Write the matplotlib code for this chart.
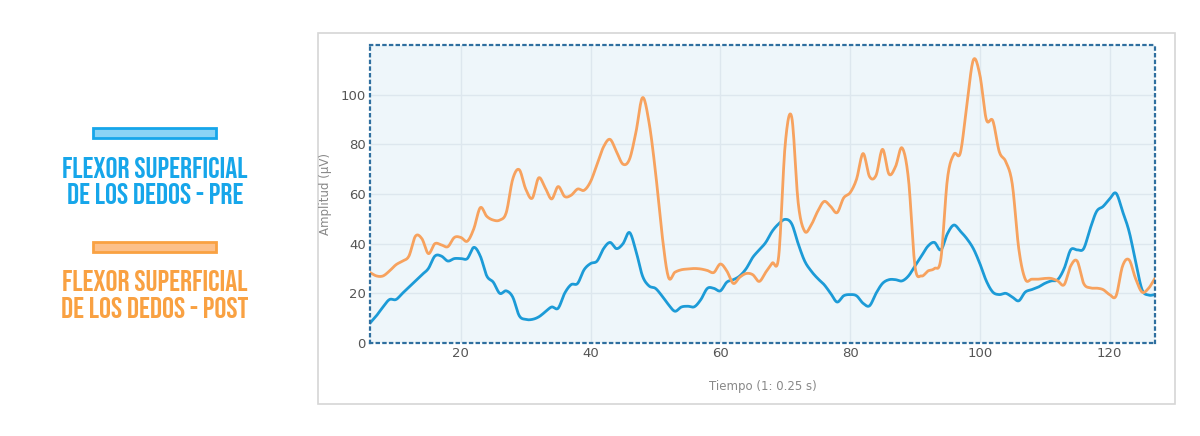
import numpy as np
import matplotlib
matplotlib.use("Agg")
import matplotlib.pyplot as plt
from matplotlib import font_manager
from matplotlib.patches import Rectangle

# sample index (1 sample = 0.25 s)
tiempo = list(range(6, 128))

pre = [8, 11, 14.5, 17.5, 17.5, 20, 22.5, 25, 27.5, 30,
       35, 35, 33, 34, 34, 34, 38.5, 35, 27, 24.5,
       20, 21, 18.5, 11, 9.5, 9.5, 10.5, 12.5, 14.5, 14,
       20, 23.5, 24, 29.5, 32, 33, 38, 40.5, 38, 40,
       44.5, 37, 27, 23, 22, 19, 15.5, 12.8, 14.5, 14.8,
       14.6, 17.5, 22, 22, 21, 24.5, 25.5, 27, 30, 34.5,
       37.5, 40.5, 45, 48, 49.8, 48, 40, 33, 29, 26,
       23.5, 20, 16.5, 19, 19.5, 19, 16, 15, 20, 24,
       25.5, 25.5, 25, 27, 31, 35, 39, 40.5, 37.5, 44,
       47.5, 45, 42, 38, 32, 25, 20.5, 19.5, 20, 18.5,
       17, 20.5, 21.5, 22.5, 24, 25, 25.5, 30, 37.5, 37.5,
       38, 46, 53, 55, 58, 60.3, 53, 45, 33, 21.5,
       19.3, 19.5]

post = [28.4, 27, 27, 29, 31.5, 33, 35, 43, 42, 36,
        40, 39.5, 38.8, 42.5, 42.5, 41, 46, 54.5, 51, 49.5,
        49.5, 52.5, 66, 69.8, 62, 58.3, 66.5, 62.5, 58, 63,
        59, 59.5, 62, 61.5, 65, 72, 79, 82, 77, 72,
        74, 85, 98.8, 89, 69, 44, 26.5, 28.5, 29.5, 29.8,
        30, 29.8, 29.2, 28.4, 31.8, 29, 24, 26.5, 28, 27.5,
        24.8, 28.5, 32.2, 35, 80, 91, 56.5, 45, 47.5, 53,
        57, 55, 52.5, 58.4, 60.5, 66, 76.3, 67, 67.5, 78,
        68, 71, 78.6, 66, 31, 27, 29, 30, 34, 66,
        76, 76.6, 96, 114, 108, 90, 89.5, 77, 73, 64,
        38, 25.7, 25.7, 25.7, 26, 26, 25, 23.5, 31, 33,
        24, 22.2, 22.1, 21.5, 19.5, 19, 31, 33.5, 26, 20.5,
        22, 26.1]

labels = ["FLEXOR SUPERFICIAL\nDE LOS DEDOS - PRE",
          "FLEXOR SUPERFICIAL\nDE LOS DEDOS - POST"]
line_colors = ["#1c9bd7", "#f7a25e"]
legend_colors = ["#16a6ea", "#f9a142"]
bar_fill = ["#8ad3f5", "#fcc08a"]


def smooth(x, y, n=12):
    """Catmull-Rom curve through the points, for a spline-like line."""
    x = np.asarray(x, float)
    y = np.asarray(y, float)
    px = np.concatenate([[2 * x[0] - x[1]], x, [2 * x[-1] - x[-2]]])
    py = np.concatenate([[2 * y[0] - y[1]], y, [2 * y[-1] - y[-2]]])
    t = np.linspace(0, 1, n, endpoint=False)
    xs, ys = [], []
    for i in range(1, len(px) - 2):
        for p, out in ((px, xs), (py, ys)):
            p0, p1, p2, p3 = p[i - 1], p[i], p[i + 1], p[i + 2]
            out.append(0.5 * (2 * p1 + (-p0 + p2) * t
                              + (2 * p0 - 5 * p1 + 4 * p2 - p3) * t ** 2
                              + (-p0 + 3 * p1 - 3 * p2 + p3) * t ** 3))
    xs.append([x[-1]])
    ys.append([y[-1]])
    return np.concatenate(xs), np.concatenate(ys)


W, H = 1200, 436
fig = plt.figure(figsize=(W / 100, H / 100), dpi=100)
fig.patch.set_facecolor("white")

# white card behind the chart
card = Rectangle((318 / W, 1 - 404 / H), (1175 - 318) / W, (404 - 33) / H,
                 transform=fig.transFigure, facecolor="white",
                 edgecolor="#d6d6d6", linewidth=1.2, zorder=0)
fig.patches.append(card)

ax = fig.add_axes([370 / W, 1 - 343 / H, 785 / W, 298 / H])
ax.set_zorder(2)
ax.set_facecolor("#eef6fa")

for series, color in zip([pre, post], line_colors):
    sx, sy = smooth(tiempo, series)
    ax.plot(sx, sy, color=color, linewidth=2.0, solid_capstyle="round")

ax.set_xlim(6, 127)
ax.set_ylim(0, 120)
ax.set_xticks(range(20, 121, 20))
ax.set_yticks(range(0, 101, 20))
ax.grid(True, color="#dde7ee", linewidth=1)
ax.set_axisbelow(True)
ax.tick_params(length=0, labelsize=9.5, labelcolor="#555555", pad=3)
for side in ["top", "bottom", "left", "right"]:
    ax.spines[side].set_linestyle((0, (1, 2)))
    ax.spines[side].set_color("#2f6f9f")
    ax.spines[side].set_linewidth(1.6)

ax.set_ylabel("Amplitud (µV)", fontsize=8.5, color="#888888", labelpad=6)
ax.set_xlabel("Tiempo (1: 0.25 s)", fontsize=8.5, color="#888888", labelpad=14)

# legend drawn on the left side, in a condensed display face if there is one
installed = {f.name for f in font_manager.fontManager.ttflist}
if "Bebas Neue" in installed:
    font, size, weight, spacing = ["Bebas Neue", "DejaVu Sans"], 21.5, "normal", 1.25
else:
    narrow = [n for n in ["Liberation Sans Narrow", "DejaVu Sans Condensed",
                          "Roboto Condensed", "Roboto"] if n in installed]
    font, size, weight, spacing = narrow[:1] + ["DejaVu Sans"], 15, "bold", 1.15

bar_y = [128, 242]
text_y = [180.5, 294]
for i in range(2):
    bar = Rectangle((93 / W, 1 - (bar_y[i] + 10) / H), 123 / W, 10 / H,
                    transform=fig.transFigure, facecolor=bar_fill[i],
                    edgecolor=legend_colors[i], linewidth=2)
    fig.patches.append(bar)
    fig.text(155 / W, 1 - text_y[i] / H, labels[i], color=legend_colors[i],
             ha="center", va="center", fontsize=size, fontweight=weight,
             family=font, linespacing=spacing)

fig.savefig("out.png", dpi=100)
